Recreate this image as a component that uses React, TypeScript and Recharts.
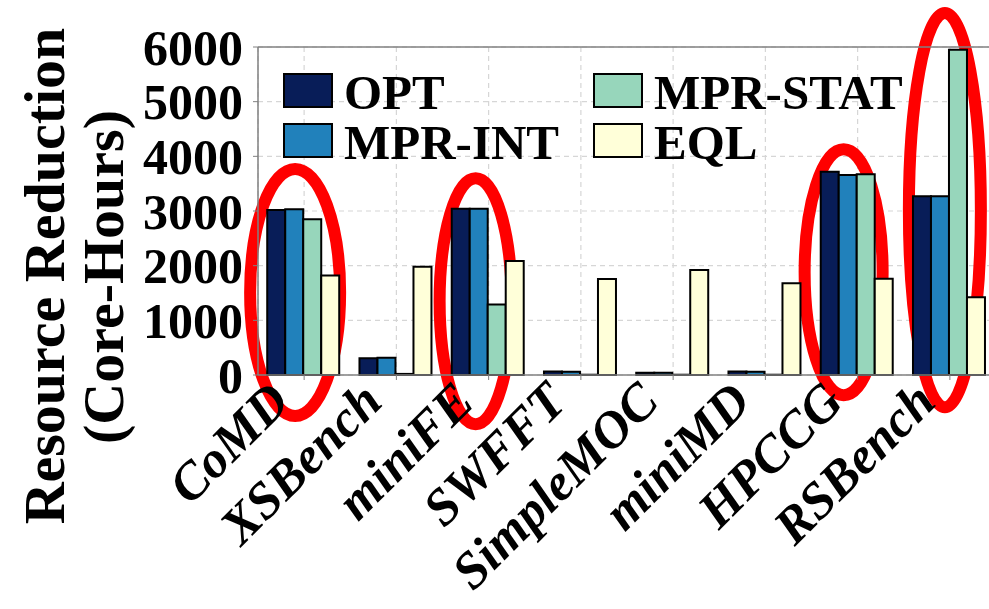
import React from 'react';
import {
  BarChart, Bar, XAxis, YAxis, CartesianGrid, Legend, ReferenceArea, ReferenceLine
} from 'recharts';

// benchmark data (core-hours saved)
const benchmarks = ['CoMD', 'XSBench', 'miniFE', 'SWFFT', 'SimpleMOC', 'miniMD', 'HPCCG', 'RSBench'];
const optValues = [3020, 305, 3040, 65, 42, 65, 3720, 3270];
const mprIntValues = [3030, 315, 3040, 60, 42, 60, 3660, 3270];
const mprStatValues = [2850, 20, 1290, 5, 5, 5, 3670, 5950];
const eqlValues = [1820, 1980, 2085, 1755, 1920, 1680, 1760, 1420];
const yTicks = [0, 1000, 2000, 3000, 4000, 5000, 6000];

// red highlight ellipses: which benchmark, and the value range they span
const highlighted = ['CoMD', 'miniFE', 'HPCCG', 'RSBench'];
const highlightTop = [3770, 3600, 4130, 6620];
const highlightBottom = [-750, -900, -370, -590];

const data = benchmarks.map((name, i) => ({
  name,
  opt: optValues[i],
  mprInt: mprIntValues[i],
  mprStat: mprStatValues[i],
  eql: eqlValues[i],
}));

const FONT = '"Liberation Serif", "Times New Roman", serif';
const SPINE = '#808080';

const SERIES = [
  { key: 'opt', name: 'OPT', color: '#081d58' },
  { key: 'mprInt', name: 'MPR-INT', color: '#2181bb' },
  { key: 'mprStat', name: 'MPR-STAT', color: '#97d6bb' },
  { key: 'eql', name: 'EQL', color: '#ffffd9' },
];

// hand-drawn look: small shift to the left and fixed half-width per ellipse
const ELLIPSE_SHIFT = [-9, -13, -14, -5];
const ELLIPSE_RX = [45, 36, 39, 36];

const BenchTick = (props: any) => {
  const { x, y, payload } = props;
  const ax = x - 12;
  const ay = y + 22;
  return (
    <text
      x={ax}
      y={ay}
      transform={`rotate(-45 ${ax} ${ay})`}
      textAnchor="end"
      fontFamily={FONT}
      fontSize={52}
      fontWeight="bold"
      fontStyle="italic"
      fill="#000"
    >
      {payload.value}
    </text>
  );
};

const YTitle = () => (
  <g fontFamily={FONT} fontSize={58} fontWeight="bold" fill="#000">
    <text x={64} y={276} transform="rotate(-90 64 276)" textAnchor="middle">
      Resource Reduction
    </text>
    <text x={123} y={277} transform="rotate(-90 123 277)" textAnchor="middle">
      (Core-Hours)
    </text>
  </g>
);

const LegendBox = () => (
  <div
    style={{
      display: 'grid',
      gridTemplateColumns: '310px 330px',
      gridAutoRows: '50px',
      fontFamily: FONT,
      fontWeight: 'bold',
      fontSize: 49,
    }}
  >
    {[SERIES[0], SERIES[2], SERIES[1], SERIES[3]].map((s) => (
      <div key={s.key} style={{ display: 'flex', alignItems: 'center', height: 35 }}>
        <span
          style={{
            display: 'inline-block',
            width: 50,
            height: 35,
            boxSizing: 'border-box',
            border: '2.5px solid #000',
            background: s.color,
            marginRight: 11,
          }}
        />
        <span style={{ lineHeight: '35px', position: 'relative', top: 2 }}>{s.name}</span>
      </div>
    ))}
  </div>
);

const makeEllipse = (i: number) => (props: any) => {
  const { x, y, width, height } = props;
  return (
    <ellipse
      cx={x + width / 2 + ELLIPSE_SHIFT[i]}
      cy={y + height / 2}
      rx={ELLIPSE_RX[i]}
      ry={height / 2}
      fill="none"
      stroke="#ff0000"
      strokeWidth={12}
    />
  );
};

export default function App() {
  return (
    <div
      style={{
        position: 'fixed',
        left: 0,
        top: 0,
        width: 989,
        height: 609,
        overflow: 'hidden',
        background: '#fff',
      }}
    >
      <BarChart
        width={1000}
        height={609}
        data={data}
        margin={{ top: 47, right: 4, left: 0, bottom: 0 }}
        barCategoryGap="10%"
        barGap={0}
      >
        <CartesianGrid stroke="#d6d6d6" strokeDasharray="5 4" strokeWidth={1.2} />
        <XAxis
          dataKey="name"
          height={234}
          interval={0}
          tick={<BenchTick />}
          tickSize={5}
          tickLine={{ stroke: SPINE }}
          axisLine={{ stroke: SPINE, strokeWidth: 1.5 }}
        />
        <YAxis
          width={258}
          domain={[0, 6000]}
          ticks={yTicks}
          interval={0}
          tickSize={5}
          tickMargin={10}
          tickLine={{ stroke: SPINE }}
          axisLine={{ stroke: SPINE, strokeWidth: 1.5 }}
          tick={{ fontFamily: FONT, fontSize: 50, fontWeight: 'bold', fill: '#000' }}
          label={<YTitle />}
        />
        <ReferenceLine y={6000} stroke={SPINE} strokeWidth={1.5} />
        {SERIES.map((s) => (
          <Bar
            key={s.key}
            dataKey={s.key}
            name={s.name}
            fill={s.color}
            stroke="#000"
            strokeWidth={2}
            isAnimationActive={false}
          />
        ))}
        <Legend
          layout="vertical"
          align="center"
          verticalAlign="middle"
          wrapperStyle={{ top: 73, left: 283, width: 650, height: 100 }}
          content={<LegendBox />}
        />
        {highlighted.map((cat, i) => (
          <ReferenceArea
            key={cat}
            x1={cat}
            x2={cat}
            y1={highlightBottom[i]}
            y2={highlightTop[i]}
            ifOverflow="visible"
            shape={makeEllipse(i)}
          />
        ))}
      </BarChart>
    </div>
  );
}
